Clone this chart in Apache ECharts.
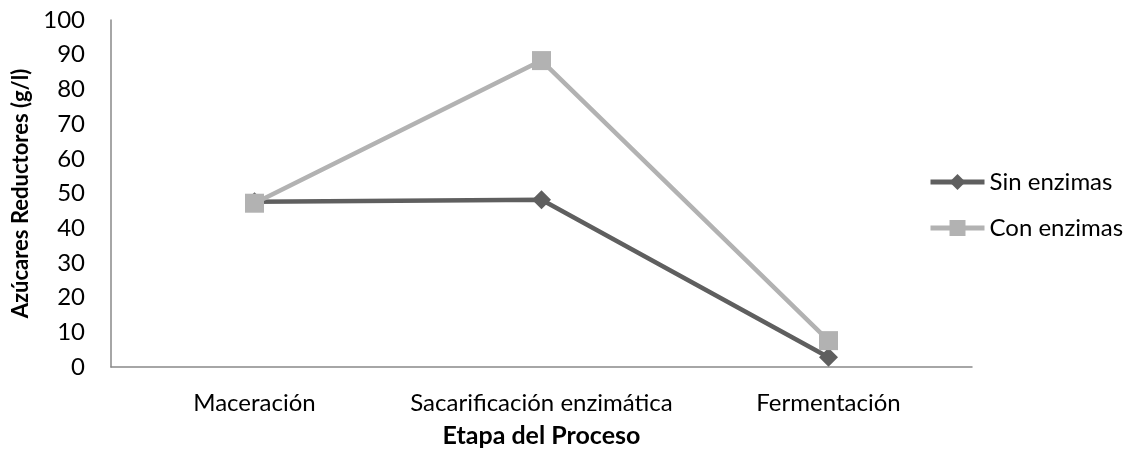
<!DOCTYPE html>
<html><head><meta charset="utf-8">
<script src="https://cdn.jsdelivr.net/npm/echarts@6/dist/echarts.min.js"></script>
<style>html,body{margin:0;padding:0;background:#fff}#c{width:1132px;height:453px}</style>
</head><body><div id="c"></div>
<script>
const categories = ['Maceración', 'Sacarificación enzimática', 'Fermentación'];
const sinEnzimas = [47.6, 48.2, 2.8];
const conEnzimas = [47.2, 88.3, 7.6];
const yTicks = [0, 100, 10];
const F = 'Lato, "Open Sans", sans-serif';
const chart = echarts.init(document.getElementById('c'));
chart.setOption({
  animation: false,
  textStyle: {fontFamily: F},
  grid: {left: 111, top: 20, right: 160, bottom: 84},
  legend: {
    orient: 'vertical', left: 928, top: 170, padding: 0, itemWidth: 54, itemHeight: 20, itemGap: 22,
    textStyle: {fontSize: 24, color: '#000', fontFamily: F},
    lineStyle: {width: 5},
    data: ['Sin enzimas', 'Con enzimas']
  },
  xAxis: {
    type: 'category', data: categories, boundaryGap: true,
    axisLine: {lineStyle: {color: '#898989', width: 1.5}},
    axisTick: {show: false},
    axisLabel: {fontSize: 24, color: '#000', margin: 24, fontFamily: F, interval: 0, hideOverlap: false},
    name: 'Etapa del Proceso', nameLocation: 'middle', nameGap: 56,
    nameTextStyle: {fontSize: 25, fontWeight: 'bold', color: '#000', fontFamily: F}
  },
  yAxis: {
    type: 'value', min: yTicks[0], max: yTicks[1], interval: yTicks[2],
    axisLine: {show: true, lineStyle: {color: '#898989', width: 1.5}},
    axisTick: {show: false},
    splitLine: {show: false},
    axisLabel: {fontSize: 24, color: '#000', margin: 26, fontFamily: F},
    name: 'Azúcares Reductores (g/l)', nameLocation: 'middle', nameGap: 77,
    nameTextStyle: {fontSize: 22, fontWeight: 'bold', color: '#000', fontFamily: F}
  },
  series: [
    {name: 'Sin enzimas', type: 'line', data: sinEnzimas, symbol: 'diamond', symbolSize: 19,
     lineStyle: {color: '#5f5f5f', width: 4.5}, itemStyle: {color: '#5f5f5f'}, z: 2},
    {name: 'Con enzimas', type: 'line', data: conEnzimas, symbol: 'rect', symbolSize: 19,
     lineStyle: {color: '#b2b2b2', width: 4.5}, itemStyle: {color: '#b2b2b2'}, z: 3}
  ]
});
</script></body></html>
